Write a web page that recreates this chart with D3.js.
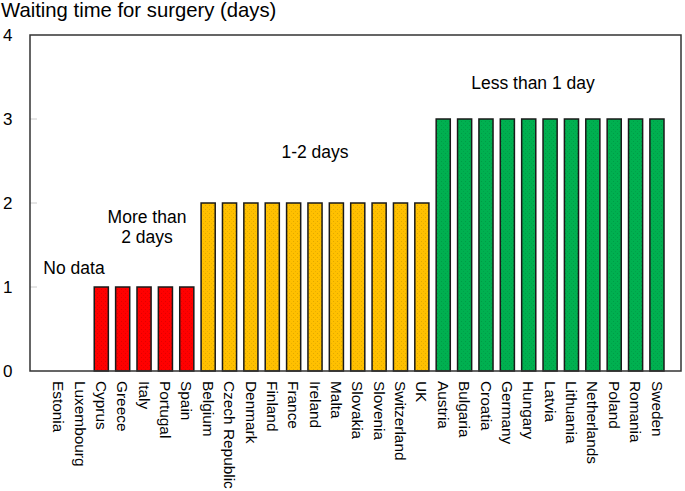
<!DOCTYPE html>
<html>
<head>
<meta charset="utf-8">
<script src="https://cdn.jsdelivr.net/npm/d3@7"></script>
<style>
  body { margin: 0; background: #fff; }
  text { font-family: "Liberation Sans", Arial, sans-serif; fill: #000; }
</style>
</head>
<body>
<div class="chart"></div>
<script>
// countries in the order they appear on the axis
var countries = ["Estonia", "Luxembourg", "Cyprus", "Greece", "Italy", "Portugal", "Spain",
  "Belgium", "Czech Republic", "Denmark", "Finland", "France", "Ireland", "Malta", "Slovakia",
  "Slovenia", "Switzerland", "UK", "Austria", "Bulgaria", "Croatia", "Germany", "Hungary",
  "Latvia", "Lithuania", "Netherlands", "Poland", "Romania", "Sweden"];
// category code: 0 no data, 1 more than 2 days, 2 1-2 days, 3 less than 1 day
var values = [0, 0, 1, 1, 1, 1, 1,
  2, 2, 2, 2, 2, 2, 2, 2, 2, 2, 2,
  3, 3, 3, 3, 3, 3, 3, 3, 3, 3, 3];
var yTicks = [0, 1, 2, 3, 4];
var groupLabels = [
  {lines: ["No data"], x: 74, y: 274},
  {lines: ["More than", "2 days"], x: 147, y: 223},
  {lines: ["1-2 days"], x: 315, y: 158},
  {lines: ["Less than 1 day"], x: 533, y: 89}
];
var colors = {1: "#ff0000", 2: "#ffc000", 3: "#00b050"};

var width = 685, height = 491;
var plot = {left: 30, right: 681, top: 35, bottom: 371};

var svg = d3.select(".chart").append("svg")
  .attr("width", width)
  .attr("height", height);

var x = d3.scaleBand().domain(countries).range([51.5, 664]).paddingInner(0.34);
var y = d3.scaleLinear().domain([0, 4]).range([plot.bottom, plot.top]);

// stipple texture for the bars
var defs = svg.append("defs");
Object.keys(colors).forEach(function(k) {
  var p = defs.append("pattern").attr("id", "tex" + k)
    .attr("patternUnits", "userSpaceOnUse").attr("width", 4).attr("height", 4);
  p.append("rect").attr("width", 4).attr("height", 4).attr("fill", colors[k]);
  p.append("rect").attr("x", 1).attr("y", 1).attr("width", 1).attr("height", 1)
    .attr("fill", "#000").attr("opacity", 0.12);
  p.append("rect").attr("x", 3).attr("y", 3).attr("width", 1).attr("height", 1)
    .attr("fill", "#000").attr("opacity", 0.08);
});

// tick marks inside frame
svg.append("g").selectAll("line")
  .data(yTicks.slice(1, 4))
  .enter().append("line")
  .attr("x1", plot.left).attr("x2", plot.left + 7)
  .attr("y1", function(d) { return y(d); })
  .attr("y2", function(d) { return y(d); })
  .attr("stroke", "#ccc").attr("stroke-width", 1);

svg.append("g").selectAll("text")
  .data(yTicks)
  .enter().append("text")
  .attr("x", 3)
  .attr("y", function(d) { return y(d); })
  .attr("dy", "0.36em")
  .attr("font-size", 17)
  .text(function(d) { return d; });

// bars
svg.append("g").selectAll("rect")
  .data(countries.map(function(c, i) { return {name: c, value: values[i]}; }).filter(function(d) { return d.value > 0; }))
  .enter().append("rect")
  .attr("x", function(d) { return x(d.name); })
  .attr("y", function(d) { return y(d.value); })
  .attr("width", x.bandwidth())
  .attr("height", function(d) { return y(0) - y(d.value); })
  .attr("fill", function(d) { return "url(#tex" + d.value + ")"; })
  .attr("stroke", "#1a1a1a")
  .attr("stroke-width", 1.5);

// frame
svg.append("rect")
  .attr("x", plot.left).attr("y", plot.top)
  .attr("width", plot.right - plot.left).attr("height", plot.bottom - plot.top)
  .attr("fill", "none").attr("stroke", "#333").attr("stroke-width", 1.5);

// country labels
svg.append("g").selectAll("text")
  .data(countries)
  .enter().append("text")
  .attr("transform", function(d) {
    return "translate(" + (x(d) + x.bandwidth() / 2) + "," + 381 + ") rotate(90)";
  })
  .attr("dy", "0.35em")
  .attr("font-size", 15.4)
  .text(function(d) { return d; });

// group annotations
groupLabels.forEach(function(g) {
  var t = svg.append("text")
    .attr("text-anchor", "middle")
    .attr("font-size", 17.5);
  g.lines.forEach(function(l, i) {
    t.append("tspan").attr("x", g.x).attr("y", g.y + i * 20).text(l);
  });
});

// title
svg.append("text")
  .attr("x", 1).attr("y", 17)
  .attr("font-size", 20.3)
  .text("Waiting time for surgery (days)");
</script>
</body>
</html>
